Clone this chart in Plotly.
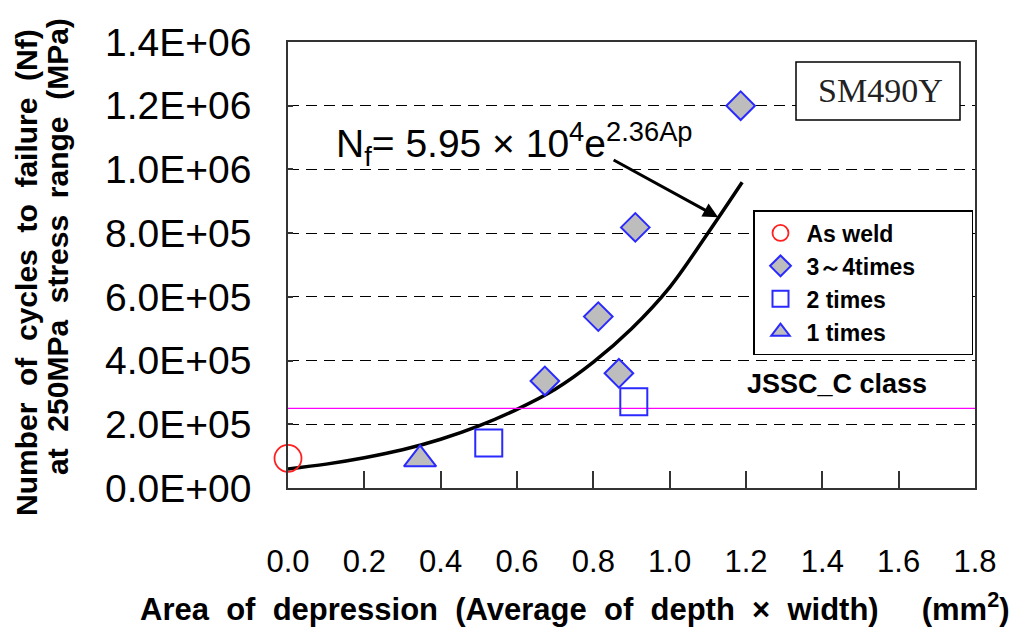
import plotly.graph_objects as go

# ---- data ----
as_weld_x = [0.0]
as_weld_y = [9.3e4]

times34_x = [0.673, 0.867, 0.813, 0.910, 1.186]
times34_y = [3.36e5, 3.60e5, 5.38e5, 8.18e5, 1.20e6]

times2_x = [0.526, 0.906]
times2_y = [1.41e5, 2.71e5]

times1_x = [0.346]
times1_y = [9.0e4]

fit_x = [0.0, 0.1, 0.2, 0.3, 0.4, 0.5, 0.6, 0.7, 0.8, 0.9, 1.0, 1.1, 1.19]
fit_y = [6.0e4, 7.5e4, 9.5e4, 1.2e5, 1.53e5, 1.95e5, 2.47e5, 3.1e5, 3.95e5, 5.0e5, 6.3e5, 8.0e5, 9.6e5]

jssc_level = 2.5e5

x_ticks = [0.0, 0.2, 0.4, 0.6, 0.8, 1.0, 1.2, 1.4, 1.6, 1.8]
x_ticktext = ["0.0", "0.2", "0.4", "0.6", "0.8", "1.0", "1.2", "1.4", "1.6", "1.8"]
y_ticks = [0, 2e5, 4e5, 6e5, 8e5, 1.0e6, 1.2e6, 1.4e6]
y_ticktext = ["0.0E+00", "2.0E+05", "4.0E+05", "6.0E+05", "8.0E+05", "1.0E+06", "1.2E+06", "1.4E+06"]

SANS = "Liberation Sans, Arial, sans-serif"
BLUE = "#2a2aff"
GREY = "#bdbdbd"
NB = "&nbsp;"

fig = go.Figure()

# fitted curve
fig.add_trace(go.Scatter(x=fit_x, y=fit_y, mode="lines", line=dict(color="black", width=3.5, shape="spline"),
                         showlegend=False, hoverinfo="skip"))
# JSSC_C line
fig.add_trace(go.Scatter(x=[0, 1.8], y=[jssc_level, jssc_level], mode="lines",
                         line=dict(color="#ff00ff", width=1.2), showlegend=False, hoverinfo="skip"))

fig.add_trace(go.Scatter(x=as_weld_x, y=as_weld_y, mode="markers", name="As weld", cliponaxis=False,
                         marker=dict(symbol="circle-open", size=27, color="#ff2020", line=dict(width=1.8))))
fig.add_trace(go.Scatter(x=times34_x, y=times34_y, mode="markers", name="3～4times" + NB * 8, cliponaxis=False,
                         marker=dict(symbol="diamond", size=22, color=GREY, line=dict(color=BLUE, width=2))))
fig.add_trace(go.Scatter(x=times2_x, y=times2_y, mode="markers", name="2 times", cliponaxis=False,
                         marker=dict(symbol="square-open", size=27, color=BLUE, line=dict(width=2))))
fig.add_trace(go.Scatter(x=times1_x, y=times1_y, mode="markers", name="1 times", cliponaxis=False,
                         marker=dict(symbol="triangle-up", size=28, color=GREY, line=dict(color=BLUE, width=2))))

fig.update_layout(
    width=1018, height=630,
    margin=dict(l=288, r=43, t=42, b=142),
    paper_bgcolor="white", plot_bgcolor="white",
    font=dict(family=SANS, color="black"),
    legend=dict(x=(753 - 288) / 687, y=(488 - 210) / 446, xanchor="left", yanchor="top",
                bgcolor="white", bordercolor="black", borderwidth=1.5, itemwidth=42,
                font=dict(family=SANS, size=23, color="black", weight="bold"),
                tracegroupgap=0),
)

fig.update_xaxes(range=[0, 1.8], tickvals=x_ticks, ticktext=x_ticktext,
                 ticks="inside", ticklen=17, tickwidth=1.5, tickcolor="#333",
                 showline=True, linecolor="#333", linewidth=1.5, mirror=True,
                 showgrid=False, zeroline=False,
                 tickfont=dict(family=SANS, size=31, color="black"), ticklabelstandoff=45)
fig.update_yaxes(range=[0, 1.4e6], tickvals=y_ticks, ticktext=y_ticktext,
                 ticks="inside", ticklen=5, tickwidth=1.5, tickcolor="#333",
                 showline=True, linecolor="#333", linewidth=1.5, mirror=True,
                 showgrid=True, gridcolor="black", gridwidth=1.3, griddash="11px,7px",
                 zeroline=False,
                 tickfont=dict(family=SANS, size=39, color="black"), ticklabelstandoff=27)

g2 = " " + NB
xtitle = ("Area" + g2 + "of" + g2 + "depression" + g2 + "(Average" + g2 + "of" + g2 + "depth" + g2 +
          "×" + g2 + "width)" + " " + NB * 4 + "(mm<sup>2</sup>)")
fig.add_annotation(xref="paper", yref="paper", x=0.5, y=0, xshift=-56.5, yshift=-119,
                   text=xtitle, showarrow=False,
                   font=dict(family=SANS, size=31, color="black", weight="bold"),
                   xanchor="center", yanchor="middle")
fig.add_annotation(xref="paper", yref="paper", x=0, y=0.5, xshift=-262, yshift=-8,
                   text="Number" + g2 + "of" + g2 + "cycles" + g2 + "to" + g2 + "failure" + g2 + "(Nf)",
                   textangle=-90, showarrow=False, font=dict(family=SANS, size=30, color="black", weight="bold"),
                   xanchor="center", yanchor="middle")
fig.add_annotation(xref="paper", yref="paper", x=0, y=0.5, xshift=-231, yshift=18,
                   text="at" + g2 + "250MPa" + g2 + "stress" + g2 + "range" + g2 + "(MPa)",
                   textangle=-90, showarrow=False, font=dict(family=SANS, size=30, color="black", weight="bold"),
                   xanchor="center", yanchor="middle")

# formula and arrow
fig.add_annotation(xref="paper", yref="paper", x=(334 - 288) / 687, y=(488 - 144) / 446,
                   xanchor="left", yanchor="middle",
                   text="N<sub>f</sub>= 5.95 × 10<sup>4</sup>e<sup>2.36Ap</sup>", showarrow=False,
                   font=dict(family=SANS, size=39, color="black"))
fig.add_annotation(x=1.127, y=8.5e5, ax=-106, ay=-58, text="", showarrow=True,
                   arrowhead=2, arrowsize=1, arrowwidth=3, arrowcolor="black")

# JSSC label
fig.add_annotation(xref="paper", yref="paper", x=(745 - 288) / 687, y=(488 - 384) / 446,
                   xanchor="left", yanchor="middle", text="JSSC_C class", showarrow=False,
                   font=dict(family=SANS, size=27, color="black", weight="bold"))

# SM490Y box
fig.add_shape(type="rect", xref="paper", yref="paper", x0=(796 - 288) / 687, x1=(960 - 288) / 687,
              y0=(488 - 120) / 446, y1=(488 - 62) / 446, line=dict(color="black", width=1.5),
              fillcolor="white", layer="above")
fig.add_annotation(xref="paper", yref="paper", x=(880 - 288) / 687, y=(488 - 90) / 446,
                   xanchor="center", yanchor="middle", text="SM490Y", showarrow=False,
                   font=dict(family="Liberation Serif, Times New Roman, serif", size=34, color="#222"))

fig.write_html("out.html")
